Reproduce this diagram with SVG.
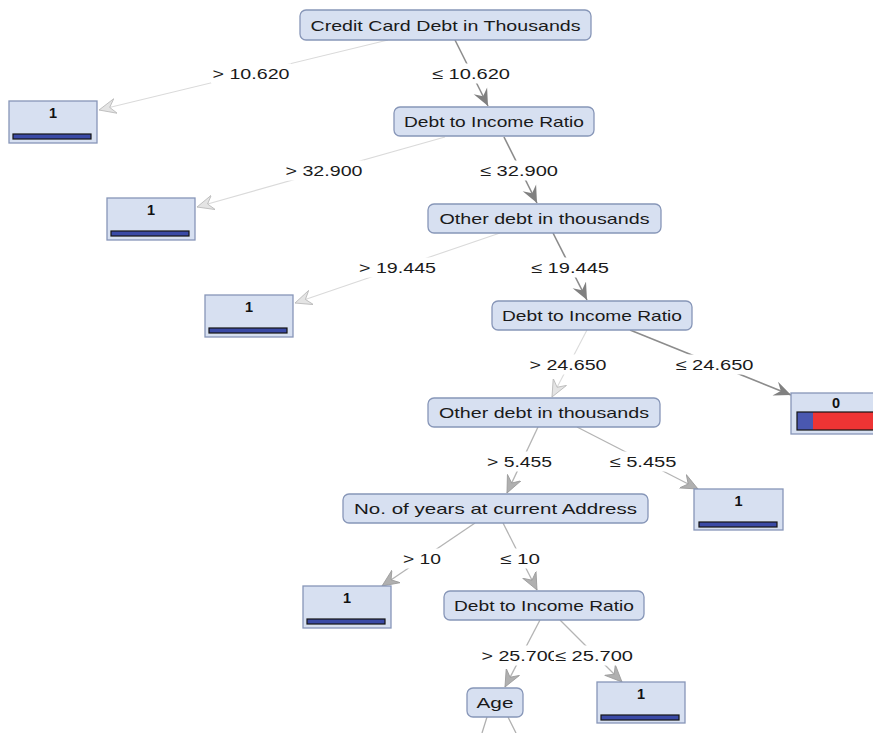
<svg xmlns="http://www.w3.org/2000/svg" width="873" height="733" viewBox="0 0 873 733">
<style>
.node rect{fill:#d7e0f1;stroke:#8796b8;stroke-width:1.3}
.leaf rect.box{fill:#d7e0f1;stroke:#8796b8;stroke-width:1.3}
.bar{fill:#3a4aa6;stroke:#141414;stroke-width:1.2}
.nt{font-family:"Liberation Sans",Arial,sans-serif;font-size:15px;fill:#1a1a1a;text-anchor:middle}
.lt{font-family:"Liberation Sans",Arial,sans-serif;font-size:14.5px;font-weight:bold;fill:#111;text-anchor:middle}
.el{font-family:"Liberation Sans",Arial,sans-serif;font-size:15px;fill:#1a1a1a;text-anchor:middle}
.lbg{fill:#fff}
.dark{stroke:#8c8c8c;stroke-width:1.6;fill:none;marker-end:url(#aDark)}
.mid{stroke:#b4b4b4;stroke-width:1.3;fill:none;marker-end:url(#aMid)}
.light{stroke:#dadada;stroke-width:1.1;fill:none;marker-end:url(#aLight)}
.plain{stroke:#b0b0b0;stroke-width:1.3;fill:none}
</style>
<defs>
<marker id="aDark" markerUnits="userSpaceOnUse" markerWidth="18" markerHeight="16" refX="17" refY="8" orient="auto" viewBox="0 0 18 16">
<path d="M0,0.5 L17,8 L0,15.5 L6,8 z" fill="#808080"/>
</marker>
<marker id="aMid" markerUnits="userSpaceOnUse" markerWidth="18" markerHeight="16" refX="17" refY="8" orient="auto" viewBox="0 0 18 16">
<path d="M0,0.5 L17,8 L0,15.5 L6,8 z" fill="#b0b0b0" stroke="#9a9a9a" stroke-width="0.8"/>
</marker>
<marker id="aLight" markerUnits="userSpaceOnUse" markerWidth="18" markerHeight="16" refX="17" refY="8" orient="auto" viewBox="0 0 18 16">
<path d="M0,0.5 L17,8 L0,15.5 L6,8 z" fill="#e4e4e4" stroke="#b8b8b8" stroke-width="0.8"/>
</marker>
</defs>
<rect width="873" height="733" fill="#fff"/>
<g id="connectors">
<line class="light" x1="388" y1="40" x2="99" y2="110"/>
<line class="dark" x1="455" y1="40" x2="488" y2="106"/>
<line class="light" x1="445" y1="137" x2="197" y2="207"/>
<line class="dark" x1="504" y1="137" x2="537" y2="203"/>
<line class="light" x1="500" y1="233" x2="295" y2="303"/>
<line class="dark" x1="553" y1="233" x2="587" y2="300"/>
<line class="light" x1="587" y1="330" x2="552" y2="397"/>
<line class="dark" x1="630" y1="330" x2="791" y2="395"/>
<line class="mid" x1="538" y1="427" x2="507" y2="493"/>
<line class="mid" x1="577" y1="427" x2="698" y2="489"/>
<line class="mid" x1="475" y1="523" x2="382" y2="586"/>
<line class="mid" x1="503" y1="523" x2="537" y2="590"/>
<line class="mid" x1="540" y1="620" x2="505" y2="687"/>
<line class="mid" x1="560" y1="620" x2="622" y2="682"/>
<line class="plain" x1="487" y1="717" x2="482" y2="733"/>
<line class="plain" x1="508" y1="717" x2="516" y2="733"/>
<g id="edge-labels">
<rect class="lbg" x="211" y="63.5" width="80" height="20"/><text class="el" x="251" y="78.5" textLength="77" lengthAdjust="spacingAndGlyphs">&gt; 10.620</text>
<rect class="lbg" x="431" y="63.5" width="80" height="20"/><text class="el" x="471" y="78.5" textLength="78" lengthAdjust="spacingAndGlyphs">≤ 10.620</text>
<rect class="lbg" x="284" y="160.5" width="80" height="20"/><text class="el" x="324" y="175.5" textLength="77" lengthAdjust="spacingAndGlyphs">&gt; 32.900</text>
<rect class="lbg" x="479" y="160.5" width="80" height="20"/><text class="el" x="519" y="175.5" textLength="78" lengthAdjust="spacingAndGlyphs">≤ 32.900</text>
<rect class="lbg" x="357" y="257.5" width="81" height="20"/><text class="el" x="397.5" y="272.5" textLength="77" lengthAdjust="spacingAndGlyphs">&gt; 19.445</text>
<rect class="lbg" x="530" y="257.5" width="80" height="20"/><text class="el" x="570" y="272.5" textLength="78" lengthAdjust="spacingAndGlyphs">≤ 19.445</text>
<rect class="lbg" x="528" y="354.5" width="80" height="20"/><text class="el" x="568" y="369.5" textLength="77" lengthAdjust="spacingAndGlyphs">&gt; 24.650</text>
<rect class="lbg" x="674.5" y="354.5" width="80" height="20"/><text class="el" x="714.5" y="369.5" textLength="78" lengthAdjust="spacingAndGlyphs">≤ 24.650</text>
<rect class="lbg" x="485.5" y="451.5" width="68" height="20"/><text class="el" x="519.5" y="466.5" textLength="65" lengthAdjust="spacingAndGlyphs">&gt; 5.455</text>
<rect class="lbg" x="608" y="451.5" width="70" height="20"/><text class="el" x="643" y="466.5" textLength="67" lengthAdjust="spacingAndGlyphs">≤ 5.455</text>
<rect class="lbg" x="401" y="548.5" width="42" height="20"/><text class="el" x="422" y="563.5" textLength="38" lengthAdjust="spacingAndGlyphs">&gt; 10</text>
<rect class="lbg" x="499" y="548.5" width="42" height="20"/><text class="el" x="520" y="563.5" textLength="40" lengthAdjust="spacingAndGlyphs">≤ 10</text>
<rect class="lbg" x="480" y="645.5" width="80" height="20"/><text class="el" x="520" y="660.5" textLength="77" lengthAdjust="spacingAndGlyphs">&gt; 25.700</text>
<rect class="lbg" x="554" y="645.5" width="80" height="20"/><text class="el" x="594" y="660.5" textLength="78" lengthAdjust="spacingAndGlyphs">≤ 25.700</text>
</g>
</g>
<g id="n1" class="node"><rect x="300" y="10" width="291" height="30" rx="6"/><text class="nt" x="445.5" y="30.5" textLength="270" lengthAdjust="spacingAndGlyphs">Credit Card Debt in Thousands</text></g>
<g id="n2" class="node"><rect x="394" y="107" width="200" height="29" rx="6"/><text class="nt" x="494" y="127" textLength="180" lengthAdjust="spacingAndGlyphs">Debt to Income Ratio</text></g>
<g id="n3" class="node"><rect x="428" y="204" width="233" height="29" rx="6"/><text class="nt" x="544.5" y="224" textLength="210" lengthAdjust="spacingAndGlyphs">Other debt in thousands</text></g>
<g id="n4" class="node"><rect x="492" y="301" width="200" height="29" rx="6"/><text class="nt" x="592" y="321" textLength="180" lengthAdjust="spacingAndGlyphs">Debt to Income Ratio</text></g>
<g id="n5" class="node"><rect x="428" y="398" width="232" height="29" rx="6"/><text class="nt" x="544" y="418" textLength="210" lengthAdjust="spacingAndGlyphs">Other debt in thousands</text></g>
<g id="n6" class="node"><rect x="343" y="494" width="305" height="29" rx="6"/><text class="nt" x="495.5" y="514" textLength="283" lengthAdjust="spacingAndGlyphs">No. of years at current Address</text></g>
<g id="n7" class="node"><rect x="444" y="591" width="200" height="29" rx="6"/><text class="nt" x="544" y="611" textLength="180" lengthAdjust="spacingAndGlyphs">Debt to Income Ratio</text></g>
<g id="n8" class="node"><rect x="467" y="688" width="56" height="29" rx="6"/><text class="nt" x="495" y="708" textLength="37" lengthAdjust="spacingAndGlyphs">Age</text></g>
<g id="leaf1" class="leaf"><rect class="box" x="9" y="101" width="88" height="42"/><text class="lt" x="53" y="117.5">1</text><rect class="bar" x="13" y="134" width="78" height="5"/></g>
<g id="leaf2" class="leaf"><rect class="box" x="107" y="198" width="88" height="42"/><text class="lt" x="151" y="214.5">1</text><rect class="bar" x="111" y="231" width="78" height="5"/></g>
<g id="leaf3" class="leaf"><rect class="box" x="205" y="295" width="88" height="42"/><text class="lt" x="249" y="311.5">1</text><rect class="bar" x="209" y="328" width="78" height="5"/></g>
<g id="leaf0" class="leaf"><rect class="box" x="791" y="393" width="90" height="41"/><text class="lt" x="836" y="408">0</text><rect x="797" y="412" width="16" height="18" fill="#4a58b0"/><rect x="813" y="412" width="64" height="18" fill="#ee3434"/><rect x="797" y="412" width="80" height="18" fill="none" stroke="#141414" stroke-width="1.2"/></g>
<g id="leaf5" class="leaf"><rect class="box" x="694" y="489" width="89" height="41"/><text class="lt" x="738.5" y="505.5">1</text><rect class="bar" x="699" y="522" width="78" height="5"/></g>
<g id="leaf6" class="leaf"><rect class="box" x="303" y="586" width="88" height="42"/><text class="lt" x="347" y="602.5">1</text><rect class="bar" x="307" y="619" width="78" height="5"/></g>
<g id="leaf7" class="leaf"><rect class="box" x="597" y="682" width="88" height="41"/><text class="lt" x="641" y="698.5">1</text><rect class="bar" x="601" y="715" width="78" height="5"/></g>
</svg>
